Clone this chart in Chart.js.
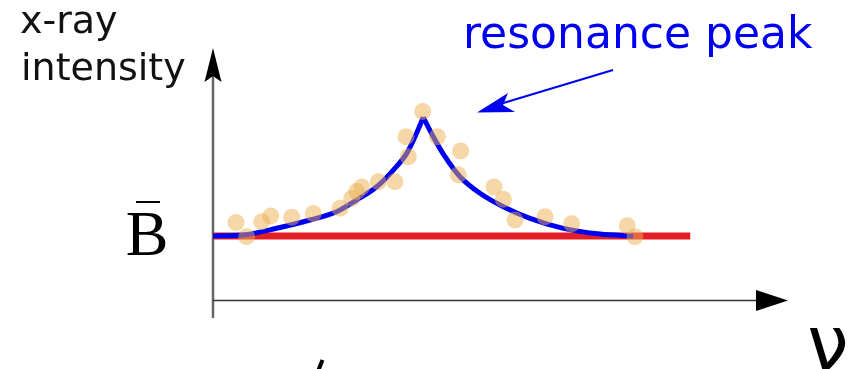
<!DOCTYPE html>
<html>
<head>
<meta charset="utf-8">
<script src="https://cdn.jsdelivr.net/npm/chart.js@4"></script>
<style>
    html, body { margin: 0; padding: 0; background: #fff; }
    #box { width: 854px; height: 369px; }
</style>
</head>
<body>
<div id="box"><canvas id="chart"></canvas></div>
<script>
var pontosX = [4.0, 5.86, 8.47, 10.03, 13.69, 17.44, 22.09, 24.12, 24.99, 25.86, 28.75, 31.65, 33.97, 33.57, 36.47, 39.01, 43.08, 42.66, 48.87, 50.49, 52.52, 57.74, 62.38, 72.05, 73.39];
var pontosY = [1.21, 0.99, 1.22, 1.31, 1.29, 1.35, 1.43, 1.58, 1.69, 1.76, 1.84, 1.84, 2.23, 2.54, 2.93, 2.54, 2.32, 1.95, 1.76, 1.57, 1.25, 1.30, 1.19, 1.16, 0.99];

// fitted curve, rising side and falling side
var subidaX = [0, 5.27, 11.08, 16.87, 21.51, 24.99, 28.47, 31.36, 33.69, 35.13, 36.57];
var subidaY = [1.0, 1.016, 1.12, 1.248, 1.377, 1.558, 1.764, 2.023, 2.282, 2.54, 2.84];
var descidaX = [36.57, 38.31, 40.35, 42.96, 46.43, 50.49, 55.13, 60.92, 67.3, 73.1];
var descidaY = [2.84, 2.54, 2.229, 1.919, 1.662, 1.454, 1.274, 1.119, 1.031, 1.0];

// background level B
var fundoX = [0, 83];
var fundoY = [1, 1];

function juntar(xs, ys) {
    var lista = [];
    for (let i = 0; i < xs.length; i++) {
        lista[i] = { x: xs[i], y: ys[i] };
    }
    return lista;
}

var desenhoExtra = {
    id: 'desenhoExtra',
    beforeDatasetsDraw: function (chart) {
        const ctx = chart.ctx;
        const sx = chart.scales.x;
        const sy = chart.scales.y;
        const x0 = sx.getPixelForValue(0);
        const y0 = sy.getPixelForValue(0);
        ctx.save();
        // y axis
        ctx.strokeStyle = '#666';
        ctx.lineWidth = 2.5;
        ctx.beginPath();
        ctx.moveTo(x0, chart.chartArea.bottom);
        ctx.lineTo(x0, chart.chartArea.top + 20);
        ctx.stroke();
        // x axis
        ctx.strokeStyle = '#333';
        ctx.lineWidth = 1.5;
        ctx.beginPath();
        ctx.moveTo(x0, y0);
        ctx.lineTo(chart.chartArea.right - 20, y0);
        ctx.stroke();
        ctx.restore();
    },
    afterDraw: function (chart) {
        const ctx = chart.ctx;
        const sx = chart.scales.x;
        const sy = chart.scales.y;
        const x0 = sx.getPixelForValue(0);
        const y0 = sy.getPixelForValue(0);
        const top = chart.chartArea.top;
        const right = chart.chartArea.right;
        ctx.save();
        ctx.fillStyle = '#000';
        // y arrow head
        ctx.beginPath();
        ctx.moveTo(x0, top);
        ctx.lineTo(x0 + 8.5, top + 34);
        ctx.lineTo(x0, top + 28);
        ctx.lineTo(x0 - 8.5, top + 34);
        ctx.closePath();
        ctx.fill();
        // x arrow head
        ctx.beginPath();
        ctx.moveTo(right, y0);
        ctx.lineTo(right - 32, y0 - 10.5);
        ctx.lineTo(right - 32, y0 + 10.5);
        ctx.closePath();
        ctx.fill();

        // axis texts
        ctx.fillStyle = '#111';
        ctx.font = '38px "DejaVu Sans"';
        ctx.textAlign = 'left';
        ctx.textBaseline = 'alphabetic';
        ctx.fillText('x-ray', 20, 33);
        ctx.fillText('intensity', 21, 80);

        // B with bar, at the level y = 1
        var yB = sy.getPixelForValue(1);
        ctx.fillStyle = '#000';
        ctx.font = '64px "Liberation Serif"';
        ctx.textAlign = 'center';
        ctx.fillText('B', 147, yB + 19);
        ctx.fillRect(136, yB - 35, 24, 2);

        ctx.font = '74px "DejaVu Sans"';
        ctx.fillText('\u03bd', 828, 369);

        ctx.strokeStyle = '#000';
        ctx.lineWidth = 4;
        ctx.beginPath();
        ctx.moveTo(322.5, 360);
        ctx.lineTo(318.5, 370);
        ctx.stroke();

        // resonance peak label and arrow
        ctx.fillStyle = '#0000f0';
        ctx.strokeStyle = '#0000f0';
        ctx.font = '44px "DejaVu Sans"';
        ctx.textAlign = 'left';
        ctx.fillText('resonance peak', 463, 48);
        ctx.lineWidth = 2;
        ctx.beginPath();
        ctx.moveTo(613, 70);
        ctx.lineTo(500, 104);
        ctx.stroke();
        ctx.beginPath();
        ctx.moveTo(477, 112.5);
        ctx.lineTo(508, 93);
        ctx.lineTo(503, 105);
        ctx.lineTo(515, 112);
        ctx.closePath();
        ctx.fill();
        ctx.restore();
    }
};

const ctx = document.getElementById('chart');
new Chart(ctx, {
    type: 'scatter',
    data: {
        datasets: [{
            label: 'medidas',
            data: juntar(pontosX, pontosY),
            backgroundColor: 'rgba(236, 176, 82, 0.5)',
            borderWidth: 0,
            pointRadius: 8.5,
            order: 0
        }, {
            label: 'subida',
            type: 'line',
            data: juntar(subidaX, subidaY),
            borderColor: '#0000f0',
            borderWidth: 5,
            cubicInterpolationMode: 'monotone',
            pointRadius: 0,
            fill: false,
            order: 1
        }, {
            label: 'descida',
            type: 'line',
            data: juntar(descidaX, descidaY),
            borderColor: '#0000f0',
            borderWidth: 5,
            cubicInterpolationMode: 'monotone',
            pointRadius: 0,
            fill: false,
            order: 1
        }, {
            label: 'fundo',
            type: 'line',
            data: juntar(fundoX, fundoY),
            borderColor: '#e31e24',
            borderWidth: 7,
            borderCapStyle: 'butt',
            pointRadius: 0,
            fill: false,
            order: 2
        }]
    },
    options: {
        responsive: true,
        maintainAspectRatio: false,
        animation: false,
        layout: { padding: { left: 213, right: 66, top: 48, bottom: 51 } },
        scales: {
            x: { type: 'linear', min: 0, max: 100, display: false },
            y: { type: 'linear', min: -0.271, max: 3.915, display: false }
        },
        plugins: {
            legend: { display: false },
            tooltip: { enabled: false }
        }
    },
    plugins: [desenhoExtra]
});
</script>
</body>
</html>
